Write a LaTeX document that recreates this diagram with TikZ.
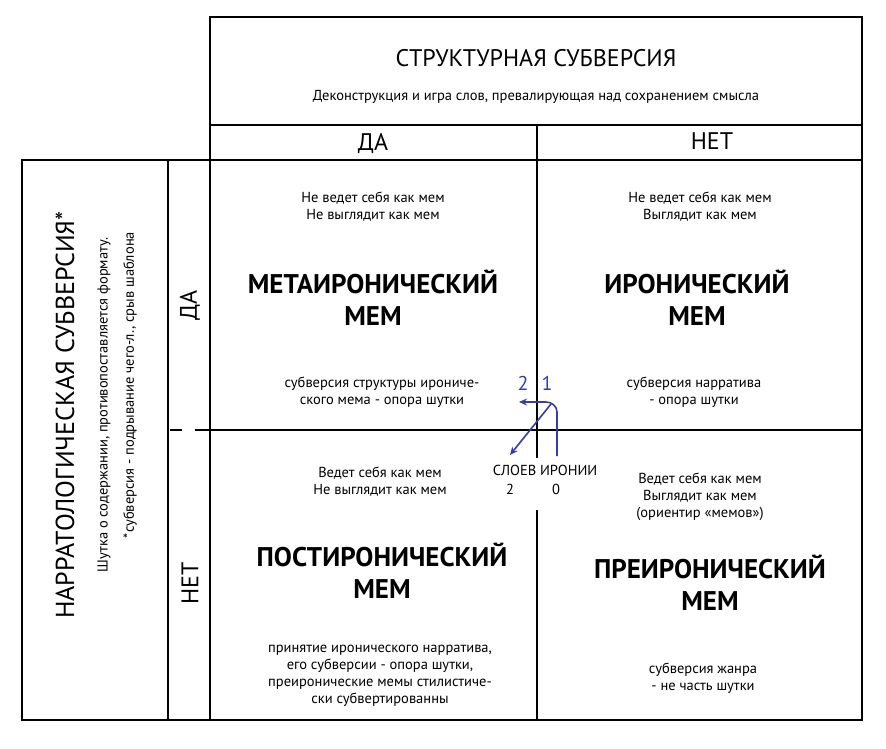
\documentclass[tikz,border=0pt]{standalone}
\usepackage{fontspec}
\usetikzlibrary{arrows.meta}
\setmainfont{PT Sans}
\definecolor{arr}{HTML}{3B3BA8}
\begin{document}
\begin{tikzpicture}[x=1pt,y=-1pt,
  ln/.style={draw=black,line width=1.4pt},
  sm/.style={font=\fontsize{14.5}{17}\selectfont,align=center},
  big/.style={font=\fontsize{27}{32}\selectfont\bfseries,align=center},
  hd/.style={font=\fontsize{24}{27}\selectfont},
  ar/.style={draw=arr,line width=1.6pt,-{Stealth[length=8pt,width=7pt]}}]
\useasboundingbox (0,0) rectangle (886,748);
\fill[white] (0,0) rectangle (886,748);
% frames
\draw[ln] (210,17) rectangle (862,720);
\draw[ln] (210,125) -- (862,125);
\draw[ln] (210,160) -- (862,160);
\draw[ln] (22,160) rectangle (168,720);
\draw[ln] (168,160) -- (210,160);
\draw[ln] (168,720) -- (210,720);
\draw[ln] (168,160) -- (168,720);
\draw[ln] (537,125) -- (537,160);
\draw[ln] (537,160) -- (537,458);
\draw[ln] (537,510) -- (537,720);
\draw[ln] (170,430) -- (182,430);
\draw[ln] (195,430) -- (862,430);
% headers
\node[hd] (t) at (536,58) {СТРУКТУРНАЯ СУБВЕРСИЯ};
\node[sm] (ts) at (536,97) {Деконструкция и игра слов, превалирующая над сохранением смысла};
\node[hd] (hy) at (373,144) {ДА};
\node[hd] (hn) at (712,141) {НЕТ};
\node[hd,font=\fontsize{26}{28}\selectfont,rotate=90] (l) at (65,415) {НАРРАТОЛОГИЧЕСКАЯ СУБВЕРСИЯ*};
\node[sm,rotate=90] (l1) at (104,405) {Шутка о содержании, противопоставляется формату.};
\node[sm,rotate=90] (l2) at (130,385) {*субверсия - подрывание чего-л., срыв шаблона};
\node[hd,rotate=90] (vy) at (190,305) {ДА};
\node[hd,rotate=90] (vn) at (190,583) {НЕТ};
% quadrants
\node[sm] (a1) at (373,207) {Не ведет себя как мем\\Не выглядит как мем};
\node[big] (a2) at (373,298) {МЕТАИРОНИЧЕСКИЙ\\МЕМ};
\node[sm] (a3) at (382,392) {субверсия структуры ирониче-\\ского мема - опора шутки};
\node[sm] (b1) at (700,207) {Не ведет себя как мем\\Выглядит как мем};
\node[big] (b2) at (697,298) {ИРОНИЧЕСКИЙ\\МЕМ};
\node[sm] (b3) at (694,392) {субверсия нарратива\\- опора шутки};
\node[sm] (c1) at (380,482) {Ведет себя как мем\\Не выглядит как мем};
\node[big] (c2) at (382,571) {ПОСТИРОНИЧЕСКИЙ\\МЕМ};
\node[sm] (c3) at (380,676) {принятие иронического нарратива,\\его субверсии - опора шутки,\\преиронические мемы стилистиче-\\ски субвертированны};
\node[sm] (d1) at (700,497) {Ведет себя как мем\\Выглядит как мем\\(ориентир «мемов»)};
\node[big] (d2) at (710,583) {ПРЕИРОНИЧЕСКИЙ\\МЕМ};
\node[sm] (d3) at (703,678) {субверсия жанра\\- не часть шутки};
% center
\node[sm] (cl) at (545,470) {СЛОЕВ ИРОНИИ};
\node[sm] (c2n) at (510,489) {2};
\node[sm] (c0n) at (556,489) {0};
\node[font=\fontsize{20}{21}\selectfont,text=arr] (n2) at (523,383) {2};
\node[font=\fontsize{20}{21}\selectfont,text=arr] (n1) at (547,383) {1};
\coordinate (s1) at (557,456);
\coordinate (e1) at (519,402);
\draw[ar] (s1) -- (557,412) to[out=90,in=0] (546,402) -- (e1);
\coordinate (s2) at (551,404);
\coordinate (e2) at (510,455);
\draw[ar] (s2) -- (e2);
\end{tikzpicture}
\end{document}
